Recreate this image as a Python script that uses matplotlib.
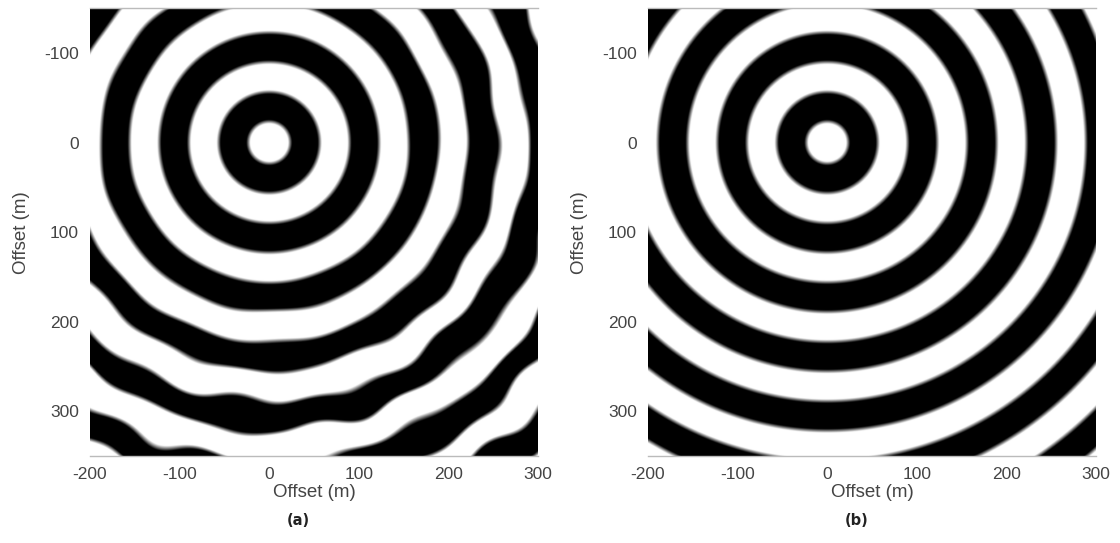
import numpy as np
import matplotlib.pyplot as plt

plt.rcParams['axes.unicode_minus'] = False

# grid extents (m)
x_lim = [-200, 300]
y_lim = [-150, 350]
x_ticks = [-200, -100, 0, 100, 200, 300]
y_ticks = [-100, 0, 100, 200, 300]

# ring geometry: radius of first zero crossing and half wavelength (m)
first_edge = 23.3
half_wave = 33.2

# heterogeneity for panel (a): (kx, ky, phase, amplitude in m)
pert_kx = [0.060, -0.040, 0.075, 0.025]
pert_ky = [0.035, 0.065, -0.040, 0.080]
pert_ph = [0.4, 1.7, 2.9, 5.1]
pert_amp = [2.8, 2.2, 1.7, 1.5]

x = np.linspace(x_lim[0], x_lim[1], 1001)
y = np.linspace(y_lim[0], y_lim[1], 1001)
X, Y = np.meshgrid(x, y)
R = np.hypot(X, Y)

def wavefield(r):
    return -np.sin(np.pi * (r - first_edge) / half_wave)

shift = np.zeros_like(R)
for kx, ky, ph, a in zip(pert_kx, pert_ky, pert_ph, pert_amp):
    shift += a * np.sin(kx * X + ky * Y + ph)
# heterogeneity only felt away from the source
shift *= np.clip((R - 110.0) / 200.0, 0, 1.05) ** 1.5

fields = [wavefield(R + shift), wavefield(R)]
labels = ['(a)', '(b)']
lefts = [0.0804, 0.5786]

fig = plt.figure(figsize=(11.2, 5.43), dpi=100)
for f, lab, lft in zip(fields, labels, lefts):
    ax = fig.add_axes([lft, 0.160, 0.400, 0.825])
    ax.imshow(f, cmap='gray', vmin=-0.22, vmax=0.22, origin='upper',
              extent=[x_lim[0], x_lim[1], y_lim[1], y_lim[0]], aspect='auto',
              interpolation='bilinear')
    ax.set_xlim(x_lim)
    ax.set_ylim(y_lim[1], y_lim[0])
    ax.set_xticks(x_ticks)
    ax.set_yticks(y_ticks)
    ax.tick_params(length=0, labelsize=12.5, labelcolor='#444444', pad=8,
                   labelfontfamily='Liberation Sans')
    for s in ['left', 'right']:
        ax.spines[s].set_visible(False)
    for s in ['top', 'bottom']:
        ax.spines[s].set_color('#bbbbbb')
        ax.spines[s].set_linewidth(1.0)
    ax.set_xlabel('Offset (m)', fontsize=13.5, color='#444444', labelpad=1,
                  family='Liberation Sans')
    ax.set_ylabel('Offset (m)', fontsize=13.5, color='#444444', labelpad=10,
                  family='Liberation Sans')
    fig.text(lft + 0.186, 0.042, lab, ha='center', va='center', fontsize=10.5,
             fontweight='bold', color='#222222')

fig.savefig('out.png', dpi=100)
